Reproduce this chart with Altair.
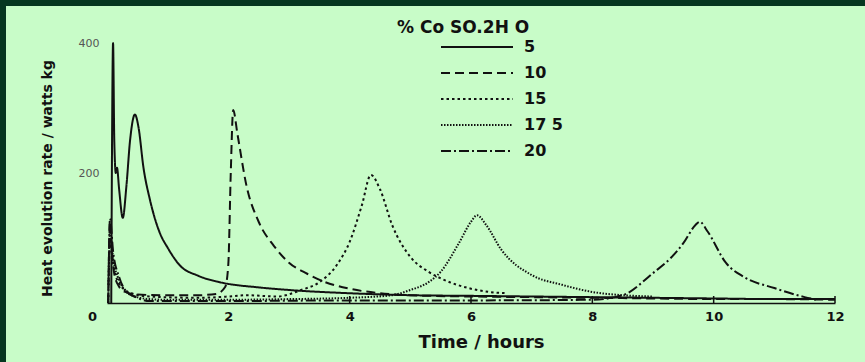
import altair as alt
import pandas as pd

# ---------------- data ----------------
SERIES = ["5", "10", "15", "17 5", "20"]
LEGEND_TITLE = "% Co SO.2H O"
X_TITLE = "Time / hours"
Y_TITLE = "Heat evolution rate / watts kg"
X_TICKS = [0, 2, 4, 6, 8, 10, 12]
Y_TICKS = [200, 400]
TICK_MARKS = [4, 6, 8, 10, 12]

t5 = [0.07, 0.1, 0.12, 0.145, 0.165, 0.2, 0.26, 0.32, 0.38, 0.46, 0.52, 0.6, 0.71, 0.87,
      1.0, 1.2, 1.5, 1.86, 2.5, 3.0, 4.0, 5.0, 6.0, 7.0, 8.0, 9.0, 10.0, 11.0, 12.0]
v5 = [0, 400, 250, 200, 208, 175, 131, 180, 250, 290, 270, 209, 158, 108,
      85, 58, 42, 32, 24, 20, 15, 12, 11, 10, 9, 8, 7, 6, 6]

t10 = [0.02, 0.05, 0.08, 0.12, 0.2, 0.3, 0.5, 1.0, 1.5, 1.8, 1.95, 2.0, 2.04, 2.08, 2.15,
       2.3, 2.5, 2.75, 3.0, 3.3, 3.6, 4.0, 4.5, 5.0, 6.0, 7.0, 8.0, 9.0, 10.0, 11.0, 12.0]
v10 = [0, 125, 80, 45, 25, 17, 13, 12, 12, 14, 25, 60, 200, 297, 260,
       180, 125, 88, 62, 45, 32, 22, 15, 12, 10, 9, 8, 7, 6, 6, 5]

t15 = [0.02, 0.05, 0.1, 0.2, 0.4, 0.7, 1.5, 2.0, 2.3, 2.8, 3.2, 3.5, 3.8, 4.0, 4.2, 4.35,
       4.5, 4.7, 5.0, 5.3, 5.5, 6.0, 6.3, 6.6]
v15 = [0, 95, 60, 30, 15, 10, 8, 10, 12, 10, 20, 32, 60, 94, 150, 197,
       175, 120, 71, 48, 38, 22, 17, 15]

t175 = [0.02, 0.05, 0.1, 0.2, 0.4, 0.7, 1.0, 2.0, 3.0, 4.0, 4.7, 5.0, 5.3, 5.5, 5.8, 6.0,
        6.1, 6.25, 6.5, 7.0, 7.5, 8.0, 8.5, 9.0]
v175 = [0, 110, 70, 35, 12, 6, 5, 5, 6, 8, 12, 20, 32, 48, 92, 125,
        135, 120, 82, 43, 28, 17, 12, 10]

t20 = [0.02, 0.05, 0.1, 0.2, 0.3, 0.5, 0.7, 1.0, 2.0, 4.0, 6.0, 8.0, 8.5, 9.0, 9.3, 9.5,
       9.7, 9.77, 9.9, 10.2, 10.5, 11.0, 11.5, 11.7]
v20 = [0, 130, 80, 40, 20, 8, 3, 3, 3, 4, 4, 5, 12, 46, 70, 92,
       120, 125, 110, 62, 40, 23, 9, 5]

# ---------------- build table ----------------
rows = []
for name, ts, vs in zip(SERIES, [t5, t10, t15, t175, t20], [v5, v10, v15, v175, v20]):
    for i, (t, v) in enumerate(zip(ts, vs)):
        rows.append({"series": name, "t": t, "v": v, "order": i})
df = pd.DataFrame(rows)

DARK = "#063620"
LIGHT = "#c8fcc8"
INK = "#111111"
FONT = "DejaVu Sans"

W, H = 728, 260
PAD_L, PAD_T = 107, 43

legend = alt.Legend(
    title=None,
    orient="none",
    legendX=333,
    legendY=-9,
    symbolType="stroke",
    symbolSize=5184,
    symbolStrokeColor=INK,
    clipHeight=26,
    rowPadding=0,
    labelOffset=10,
    labelFont=FONT,
    labelFontSize=16,
    labelFontWeight="bold",
    labelColor=INK,
    zindex=2,
)

x_scale = alt.Scale(domain=[0, 12], nice=False)
y_scale = alt.Scale(domain=[0, 400], nice=False)

panel = alt.Chart(pd.DataFrame({"a": [0]})).mark_rect(color=LIGHT).encode(
    x=alt.value(-PAD_L + 6), x2=alt.value(W + 40),
    y=alt.value(-PAD_T + 6), y2=alt.value(H + 70),
)

lines = alt.Chart(df).mark_line(color=INK, strokeJoin="round", interpolate="monotone").encode(
    x=alt.X("t:Q", scale=x_scale, axis=alt.Axis(
        values=X_TICKS, format="d", title=X_TITLE, grid=False, ticks=False, zindex=1,
        domainColor=INK, domainWidth=1.5, labelFlush=False,
        labelFont=FONT, labelFontSize=13, labelFontWeight="bold", labelColor=INK,
        labelPadding=7,
        labelOffset={"condition": {"test": "datum.value === 0", "value": -15}, "value": 0},
        titleFont=FONT, titleFontSize=18, titleFontWeight="bold", titleColor=INK,
        titleX=374, titleY=39, titleBaseline="middle", titleAlign="center",
    )),
    y=alt.Y("v:Q", scale=y_scale, axis=alt.Axis(
        values=Y_TICKS, format="d", title=Y_TITLE, grid=False, ticks=False, domain=False, zindex=1,
        labelFont=FONT, labelFontSize=11, labelColor="#555555", labelPadding=8,
        labelBaseline="middle", labelFlush=False,
        titleFont=FONT, titleFontSize=14, titleFontWeight="bold", titleColor=INK,
        titleX=-60, titleY=135, titleAngle=-90, titleBaseline="middle", titleAlign="center",
    )),
    detail="series:N",
    order="order:Q",
    strokeDash=alt.StrokeDash("series:N", scale=alt.Scale(
        domain=SERIES,
        range=[[1, 0], [9, 5], [2.5, 3], [1.5, 1.5], [10, 3, 2, 3]]), legend=legend),
    strokeWidth=alt.StrokeWidth("series:N", scale=alt.Scale(
        domain=SERIES, range=[2, 2, 3.5, 1.2, 2]), legend=legend),
)

ticks = alt.Chart(pd.DataFrame({"t": TICK_MARKS})).mark_rule(color=INK, strokeWidth=1.5).encode(
    x=alt.X("t:Q", scale=x_scale), y=alt.value(H), y2=alt.value(H - 7)
)

title = alt.Chart(pd.DataFrame({"txt": [LEGEND_TITLE]})).mark_text(
    font=FONT, fontSize=17, fontWeight="bold", color=INK, align="left", baseline="middle"
).encode(text="txt:N", x=alt.value(290), y=alt.value(-15))

chart = alt.layer(panel, lines, ticks, title).properties(
    width=W, height=H,
    background=DARK,
    padding={"left": PAD_L, "top": PAD_T, "right": 865 - PAD_L - W, "bottom": 362 - PAD_T - H},
    autosize=alt.AutoSizeParams(type="none"),
).configure_view(stroke=None)

chart.save("out.html", embed_options={"renderer": "svg", "actions": False})
